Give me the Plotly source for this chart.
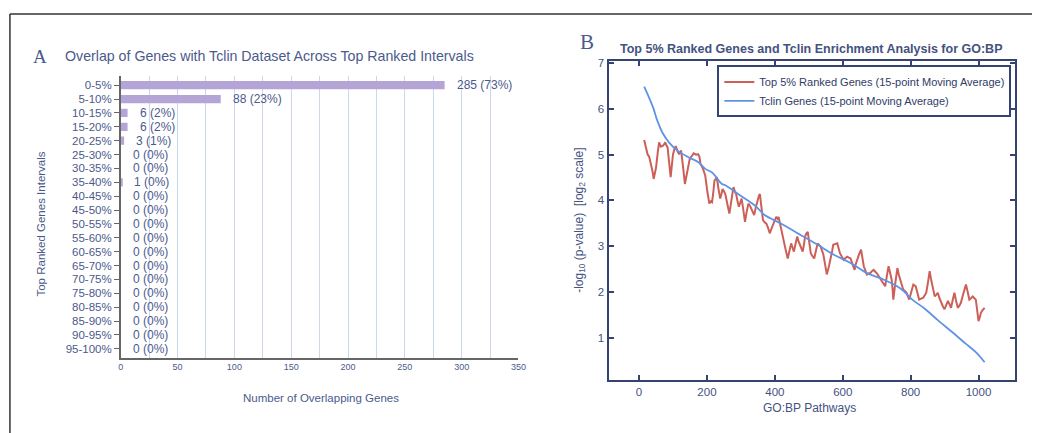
import plotly.graph_objects as go

# ---------------- Panel A data ----------------
intervals = ["0-5%", "5-10%", "10-15%", "15-20%", "20-25%", "25-30%", "30-35%",
             "35-40%", "40-45%", "45-50%", "50-55%", "55-60%", "60-65%", "65-70%",
             "70-75%", "75-80%", "80-85%", "85-90%", "90-95%", "95-100%"]
overlap_counts = [285, 88, 6, 6, 3, 0, 0, 1, 0, 0, 0, 0, 0, 0, 0, 0, 0, 0, 0, 0]
overlap_pct = [73, 23, 2, 2, 1, 0, 0, 0, 0, 0, 0, 0, 0, 0, 0, 0, 0, 0, 0, 0]
x_ticks_a = [0, 50, 100, 150, 200, 250, 300, 350]

# ---------------- Panel B data ----------------
top5_x = [15, 20, 25, 30, 35, 40, 43, 47, 50, 55, 59, 64, 69, 73, 77, 81, 84, 89, 93,
          97, 100, 104, 108, 113, 118, 121, 124, 130, 135, 140, 145, 149, 152, 157,
          161, 168, 174, 178, 181, 188, 195, 201, 207, 211, 215, 219, 222, 226, 229,
          234, 239, 243, 246, 250, 254, 260, 266, 272, 278, 282, 286, 290, 294, 298,
          302, 307, 312, 317, 322, 327, 331, 335, 339, 344, 349, 353, 356, 361, 365,
          370, 375, 380, 385, 390, 395, 400, 404, 408, 411, 415, 419, 423, 427, 433,
          438, 443, 448, 452, 456, 461, 466, 469, 472, 477, 482, 486, 489, 493, 497,
          502, 506, 511, 516, 521, 526, 531, 535, 539, 543, 548, 553, 559, 565, 569,
          572, 578, 584, 588, 592, 598, 603, 608, 613, 618, 623, 629, 635, 638, 642,
          648, 654, 658, 662, 667, 671, 676, 681, 686, 691, 696, 700, 706, 712, 718,
          725, 730, 735, 740, 744, 747, 749, 755, 761, 765, 769, 774, 778, 783, 788,
          792, 796, 802, 808, 812, 815, 820, 825, 831, 837, 842, 846, 851, 856, 860,
          864, 868, 871, 876, 880, 885, 890, 895, 900, 905, 910, 915, 919, 924, 929,
          934, 939, 944, 948, 955, 963, 968, 973, 978, 983, 988, 992, 996, 1000, 1004,
          1007, 1012, 1018]
top5_y = [5.32, 5.15, 5.01, 4.95, 4.80, 4.62, 4.47, 4.58, 4.72, 5.05, 5.27, 5.18,
          5.19, 5.22, 5.27, 5.20, 5.16, 4.80, 4.51, 4.80, 5.01, 5.12, 5.19, 5.08,
          5.01, 5.06, 5.09, 4.70, 4.36, 4.55, 4.80, 4.90, 4.94, 5.00, 5.03, 5.00,
          5.01, 4.95, 4.80, 4.70, 4.54, 4.20, 3.93, 3.98, 3.96, 4.20, 4.43, 4.47,
          4.51, 4.25, 4.04, 4.15, 4.25, 4.20, 4.14, 3.92, 3.71, 4.00, 4.29, 4.20,
          4.14, 3.98, 3.86, 3.95, 4.04, 3.80, 3.53, 3.75, 3.93, 3.88, 3.82, 3.75,
          3.68, 3.85, 4.00, 4.10, 4.14, 3.85, 3.57, 3.52, 3.49, 3.40, 3.28, 3.38,
          3.49, 3.58, 3.64, 3.60, 3.64, 3.50, 3.35, 3.20, 3.06, 2.88, 2.73, 2.90,
          3.06, 2.97, 2.88, 3.05, 3.21, 3.12, 3.06, 2.95, 2.88, 3.05, 3.21, 3.28,
          3.31, 3.05, 2.84, 2.78, 2.73, 2.90, 3.06, 3.02, 2.99, 2.90, 2.81, 2.60,
          2.38, 2.55, 2.73, 2.90, 3.03, 3.05, 3.06, 2.95, 2.84, 2.76, 2.70, 2.74,
          2.77, 2.75, 2.73, 2.60, 2.48, 2.60, 2.70, 2.82, 2.92, 2.72, 2.56, 2.46,
          2.38, 2.40, 2.41, 2.45, 2.48, 2.44, 2.41, 2.34, 2.27, 2.20, 2.12, 2.35,
          2.56, 2.40, 2.27, 2.05, 1.83, 2.20, 2.52, 2.38, 2.27, 2.15, 2.05, 2.02,
          1.98, 1.90, 1.83, 2.00, 2.16, 2.14, 2.12, 1.98, 1.83, 1.85, 1.87, 1.93,
          1.98, 2.20, 2.45, 2.28, 2.12, 2.00, 1.90, 1.94, 1.98, 1.86, 1.76, 1.68,
          1.62, 1.72, 1.80, 1.72, 1.65, 1.82, 1.98, 1.80, 1.65, 1.70, 1.76, 1.95,
          2.16, 2.00, 1.83, 1.86, 1.90, 1.86, 1.83, 1.60, 1.36, 1.45, 1.54, 1.60,
          1.65]
tclin_x = [15, 30, 42, 54, 69, 88, 113, 147, 176, 195, 215, 244, 254, 292, 341, 370,
           419, 467, 526, 574, 623, 671, 720, 769, 805, 840, 880, 924, 963, 992, 1018]
tclin_y = [6.49, 6.24, 6.02, 5.74, 5.48, 5.27, 5.09, 4.94, 4.83, 4.69, 4.61, 4.36,
           4.33, 4.14, 3.89, 3.68, 3.49, 3.28, 3.03, 2.81, 2.63, 2.41, 2.27, 2.08,
           1.83, 1.64, 1.38, 1.11, 0.86, 0.68, 0.46]
x_ticks_b = [0, 200, 400, 600, 800, 1000]
y_ticks_b = [1, 2, 3, 4, 5, 6, 7]

W, H = 1040, 433
def px(x):
    return x / W
def py(y):
    return 1 - y / H

TXT_A = "#4b5a8c"
TXT_B = "#44527f"
AX_B = "#34436f"
FONT = "Liberation Sans, Arial, sans-serif"
SERIF = "Liberation Serif, Times New Roman, serif"

fig = go.Figure()

# Panel A bars
fig.add_trace(go.Bar(
    x=overlap_counts, y=intervals, orientation="h",
    marker=dict(color="#b4a5d6", line=dict(width=0)),
    width=0.6, xaxis="x", yaxis="y", showlegend=False, hoverinfo="skip",
))

# Panel B lines
fig.add_trace(go.Scatter(
    x=top5_x, y=top5_y, mode="lines",
    line=dict(color="#cc5f58", width=2),
    name="Top 5% Ranked Genes (15-point Moving Average)",
    xaxis="x2", yaxis="y2",
))
fig.add_trace(go.Scatter(
    x=tclin_x, y=tclin_y, mode="lines", line_shape="spline",
    line=dict(color="#5f93e6", width=1.8),
    name="Tclin Genes (15-point Moving Average)",
    xaxis="x2", yaxis="y2",
))

annotations = []
for cat, v, p in zip(intervals, overlap_counts, overlap_pct):
    annotations.append(dict(
        x=v, y=cat, xref="x", yref="y", text=f"{v} ({p}%)",
        showarrow=False, xanchor="left", yanchor="middle", xshift=10,
        font=dict(size=12, color=TXT_A, family=FONT),
    ))

def pa(x, y, text, size, color, family=FONT, angle=0, xanchor="center"):
    return dict(x=px(x), y=py(y), xref="paper", yref="paper", text=text,
                showarrow=False, xanchor=xanchor, yanchor="middle", textangle=angle,
                font=dict(size=size, color=color, family=family))

annotations += [
    pa(37, 53, "A", 19, TXT_A, SERIF),
    pa(61, 52, "Overlap of Genes with Tclin Dataset Across Top Ranked Intervals",
       14.2, TXT_A, xanchor="left"),
    pa(38, 222, "Top Ranked Genes Intervals", 11.5, TXT_A, angle=-90),
    pa(321, 398, "Number of Overlapping Genes", 11.5, TXT_A),
    pa(590, 38, "B", 21, TXT_A, SERIF),
    pa(817, 45, "<b>Top 5% Ranked Genes and Tclin Enrichment Analysis for GO:BP</b>",
       12.5, TXT_B),
    pa(583, 218, "-log<sub>10</sub> (p-value)  [log<sub>2</sub> scale]", 12, TXT_B, angle=-90),
    pa(815, 408, "GO:BP Pathways", 12, TXT_B),
]

shapes = [
    dict(type="line", xref="paper", yref="paper", x0=px(7), x1=1.0, y0=py(10), y1=py(10),
         line=dict(color="#333333", width=1.5)),
    dict(type="line", xref="paper", yref="paper", x0=px(7), x1=px(7), y0=py(10), y1=0,
         line=dict(color="#333333", width=1.5)),
]

grid_c = "#cdd6ef"
fig.update_layout(
    width=W, height=H,
    margin=dict(l=0, r=0, t=0, b=0),
    paper_bgcolor="white", plot_bgcolor="white",
    font=dict(family=FONT, color=TXT_A),
    xaxis=dict(
        domain=[px(119), px(521)], anchor="y", range=[0, 350],
        tickvals=x_ticks_a, showgrid=True, gridcolor=grid_c, gridwidth=1,
        minor=dict(dtick=25, showgrid=True, gridcolor=grid_c, gridwidth=1, tick0=0),
        showline=True, linecolor="#666666", linewidth=1.5, zeroline=False,
        ticks="", tickfont=dict(size=9, color=TXT_A),
    ),
    yaxis=dict(
        domain=[py(357), py(73)], anchor="x", type="category",
        tickmode="array", tickvals=intervals, ticktext=intervals,
        range=[19.64, -0.64], showline=True, linecolor="#666666", linewidth=1.5,
        ticks="outside", ticklen=5, tickcolor="#666666", showgrid=False,
        tickfont=dict(size=11.5, color=TXT_A),
    ),
    xaxis2=dict(
        domain=[px(612), px(1023)], anchor="y2", range=[-90, 1108],
        tickvals=x_ticks_b, ticks="inside", ticklen=5, tickwidth=1.5,
        tickcolor=AX_B, showline=True, linecolor=AX_B, linewidth=2,
        mirror="ticks", showgrid=False, zeroline=False,
        tickfont=dict(size=11.5, color=TXT_B),
    ),
    yaxis2=dict(
        domain=[py(380), py(58)], anchor="x2", range=[0.06, 7.04],
        tickvals=y_ticks_b, ticks="inside", ticklen=5, tickwidth=1.5,
        tickcolor=AX_B, showline=True, linecolor=AX_B, linewidth=2,
        mirror="ticks", showgrid=False, zeroline=False,
        tickfont=dict(size=11.5, color=TXT_B),
    ),
    legend=dict(
        x=px(722), y=py(62), xanchor="left", yanchor="top",
        bgcolor="white", bordercolor=AX_B, borderwidth=2,
        font=dict(size=11, color="#2f3c66", family=FONT),
        tracegroupgap=0, itemwidth=30,
    ),
    annotations=annotations,
    shapes=shapes,
)

fig.write_html("out.html", config={"displayModeBar": False},
               post_script="document.body.style.margin='0';")
